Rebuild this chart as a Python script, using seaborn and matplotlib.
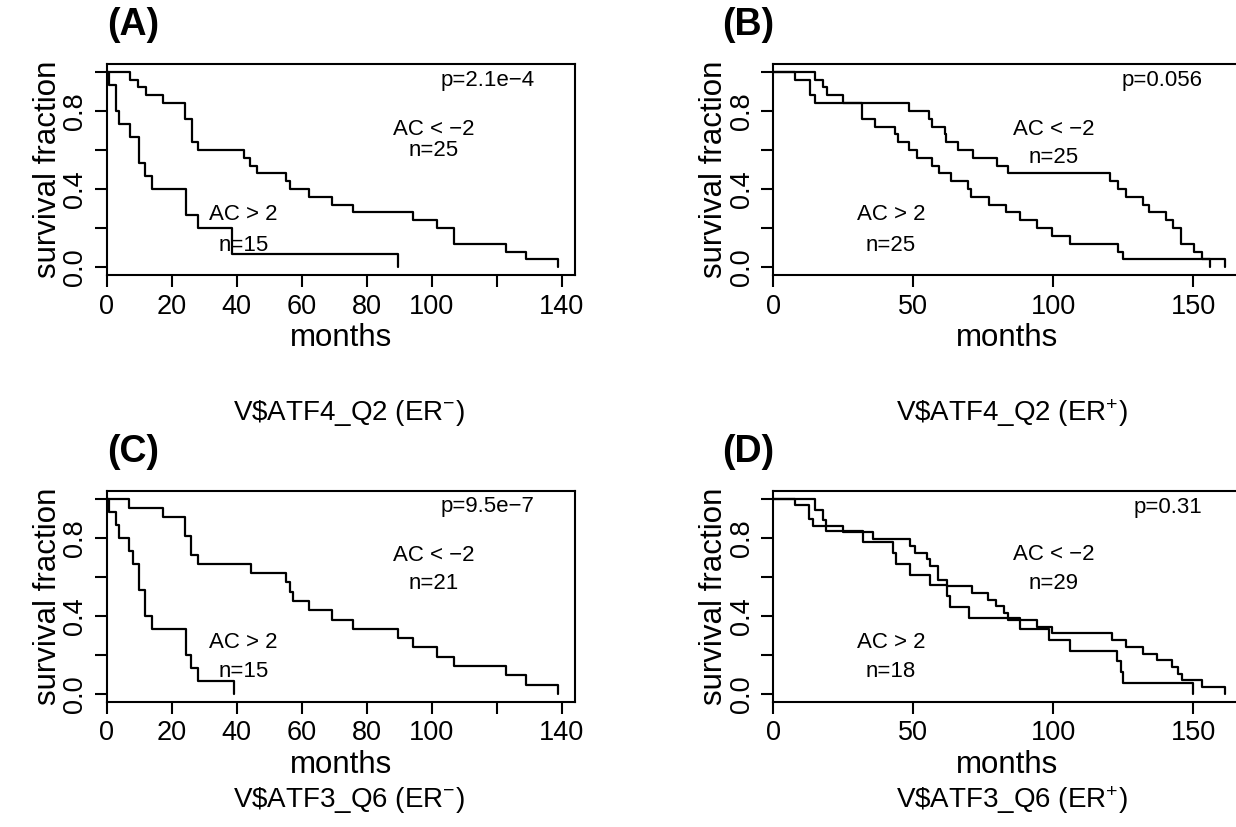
import matplotlib
matplotlib.use("Agg")
import matplotlib.pyplot as plt
import seaborn as sns

# ------------------------------------------------------------
# Kaplan-Meier steps: time (months), survival after step
# ------------------------------------------------------------
# (A) V$ATF4_Q2, ER-
a_hi_t = [0, 7.2, 9.7, 12.1, 17.2, 24.1, 26.1, 28.0, 42.2, 44.1, 46.2, 55.2, 56.4,
          62.3, 69.2, 75.7, 94.3, 101.7, 106.9, 122.8, 129.0, 139.0]
a_hi_s = [1, .96, .92, .88, .84, .76, .64, .60, .56, .52, .48, .44, .40,
          .36, .32, .28, .24, .20, .12, .08, .04, 0]
a_lo_t = [0, 0.8, 2.9, 3.8, 7.2, 10.0, 11.8, 13.8, 24.4, 28.2, 38.5, 89.7]
a_lo_s = [1, .933, .80, .733, .667, .533, .467, .40, .267, .20, .067, 0]

# (B) V$ATF4_Q2, ER+
b_hi_t = [0, 14.9, 17.9, 19.0, 24.8, 48.6, 55.7, 56.5, 61.3, 61.8, 66.1, 71.2, 79.8,
          83.9, 120.3, 123.2, 126.0, 132.1, 134.3, 140.2, 142.9, 145.5, 150.3, 153.0, 161.3]
b_hi_s = [1, .96, .92, .88, .84, .80, .76, .72, .68, .64, .60, .56, .52,
          .48, .44, .40, .36, .32, .28, .24, .20, .12, .08, .04, 0]
b_lo_t = [0, 7.75, 13.1, 14.9, 31.6, 36.3, 43.5, 44.5, 48.6, 51.2, 56.5, 59.3, 63.3,
          69.6, 70.5, 77.1, 83.0, 88.1, 94.1, 99.4, 106.0, 123.2, 125.0, 156.0]
b_lo_s = [1, .96, .88, .84, .76, .72, .68, .64, .60, .56, .52, .48, .44,
          .40, .36, .32, .28, .24, .20, .16, .12, .08, .04, 0]

# (C) V$ATF3_Q6, ER-
c_hi_t = [0, 7.0, 17.2, 24.1, 26.0, 28.0, 44.3, 55.1, 56.4, 57.3, 62.3, 69.2, 75.7,
          89.7, 94.3, 101.7, 106.9, 122.8, 129.0, 139.0]
c_hi_s = [1, .952, .905, .810, .714, .667, .619, .571, .524, .476, .429, .381, .333,
          .286, .238, .190, .143, .095, .048, 0]
c_lo_t = [0, 0.8, 2.9, 3.8, 7.0, 8.0, 10.0, 11.8, 14.0, 24.4, 26.0, 28.2, 39.3]
c_lo_s = [1, .933, .867, .80, .733, .667, .533, .40, .333, .20, .133, .067, 0]

# (D) V$ATF3_Q6, ER+
d_hi_t = [0, 7.75, 12.9, 14.3, 25.0, 35.7, 48.8, 50.6, 54.8, 56.0, 58.9, 61.9, 70.8,
          76.8, 79.5, 82.5, 83.9, 94.1, 99.6, 120.8, 126.0, 132.1, 136.9, 142.3, 144.6,
          145.8, 153.0, 161.3]
d_hi_s = [1, .966, .897, .862, .828, .793, .759, .724, .690, .655, .586, .552, .517,
          .483, .448, .414, .379, .345, .310, .276, .241, .207, .172, .138, .103,
          .069, .034, 0]
d_lo_t = [0, 14.9, 17.9, 18.8, 32.1, 42.9, 43.8, 48.8, 56.0, 61.9, 63.1, 70.0, 88.1,
          98.6, 106.0, 122.9, 124.0, 125.0, 150.0]
d_lo_s = [1, .944, .889, .833, .778, .722, .667, .611, .556, .5, .444, .389, .333,
          .278, .222, .167, .111, .056, 0]

panel_labels = ["(A)", "(B)", "(C)", "(D)"]
subtitles = [r"V\$ATF4_Q2 (ER$^{-}$)", r"V\$ATF4_Q2 (ER$^{+}$)",
             r"V\$ATF3_Q6 (ER$^{-}$)", r"V\$ATF3_Q6 (ER$^{+}$)"]
p_values = ["p=2.1e\u22124", "p=0.056", "p=9.5e\u22127", "p=0.31"]
n_hi = ["n=25", "n=25", "n=21", "n=29"]
n_lo = ["n=15", "n=25", "n=15", "n=18"]
ticks_140 = [0, 20, 40, 60, 80, 100, 120, 140]
ticklabels_140 = ["0", "20", "40", "60", "80", "100", "", "140"]
ticks_150 = [0, 50, 100, 150]
ticklabels_150 = ["0", "50", "100", "150"]

# ------------------------------------------------------------
sns.set_theme(style="ticks")
plt.rcParams.update({
    "axes.edgecolor": "black",
    "axes.linewidth": 1.5,
    "xtick.color": "black",
    "ytick.color": "black",
    "text.color": "black",
    "mathtext.fontset": "custom",
    "mathtext.rm": "Liberation Sans",
    "mathtext.it": "Liberation Sans",
})
plt.rcParams["font.family"] = ["Liberation Sans", "DejaVu Sans"]

W, H = 1236, 827
fig = plt.figure(figsize=(W / 100, H / 100), dpi=100)


def rect(left, top, right, bottom):
    return [left / W, 1 - bottom / H, (right - left) / W, (bottom - top) / H]


panels = [
    dict(r=rect(106.7, 64, 575, 275), curves=[(a_hi_t, a_hi_s), (a_lo_t, a_lo_s)],
         xmax=144.1, ticks=ticks_140, tl=ticklabels_140,
         pos_p=(117.3, .958), pos_hi=(100.5, .705, .595), pos_lo=(42, .272, .113),
         lab=(107, 25), sub=(349, 413)),
    dict(r=rect(773.3, 64, 1241.6, 275), curves=[(b_hi_t, b_hi_s), (b_lo_t, b_lo_s)],
         xmax=167.25, ticks=ticks_150, tl=ticklabels_150,
         pos_p=(139, .955), pos_hi=(100, .705, .562), pos_lo=(42, .272, .113),
         lab=(722, 25), sub=(1012, 413)),
    dict(r=rect(106.7, 491, 575, 701.7), curves=[(c_hi_t, c_hi_s), (c_lo_t, c_lo_s)],
         xmax=144.1, ticks=ticks_140, tl=ticklabels_140,
         pos_p=(117.3, .96), pos_hi=(100.5, .711, .565), pos_lo=(42, .266, .115),
         lab=(107, 452), sub=(349, 800)),
    dict(r=rect(773.3, 491, 1241.6, 701.7), curves=[(d_hi_t, d_hi_s), (d_lo_t, d_lo_s)],
         xmax=167.25, ticks=ticks_150, tl=ticklabels_150,
         pos_p=(141, .953), pos_hi=(100, .716, .565), pos_lo=(42, .266, .115),
         lab=(722, 452), sub=(1012, 800)),
]

for i, p in enumerate(panels):
    ax = fig.add_axes(p["r"])
    for t, s in p["curves"]:
        sns.lineplot(x=t, y=s, ax=ax, color="black", lw=1.6,
                     drawstyle="steps-post", estimator=None, sort=False)
    ax.set_xlim(0, p["xmax"])
    ax.set_ylim(-0.04, 1.04)
    ax.set_xticks(p["ticks"])
    ax.set_xticklabels(p["tl"])
    ax.set_yticks([0, 0.2, 0.4, 0.6, 0.8, 1.0])
    ax.set_yticklabels(["0.0", "", "0.4", "", "0.8", ""])
    ax.tick_params(direction="out", length=8.5, width=1.5, labelsize=19.5, pad=5)
    for lab in ax.get_yticklabels():
        lab.set_rotation(90)
        lab.set_va("center")
    for sp in ax.spines.values():
        sp.set_visible(True)
    ax.set_xlabel("")
    ax.set_ylabel("")

    ax.text(0.5, -0.30, "months", transform=ax.transAxes, ha="center",
            va="center", fontsize=22.5)
    ax.text(-0.126, 0.5, "survival fraction", transform=ax.transAxes,
            ha="center", va="center", rotation=90, fontsize=22.5)

    ax.text(*p["pos_p"], p_values[i], ha="center", va="center", fontsize=16)
    x, y1, y2 = p["pos_hi"]
    ax.text(x, y1, "AC < \u22122", ha="center", va="center", fontsize=16)
    ax.text(x, y2, n_hi[i], ha="center", va="center", fontsize=16)
    x, y1, y2 = p["pos_lo"]
    ax.text(x, y1, "AC > 2", ha="center", va="center", fontsize=16)
    ax.text(x, y2, n_lo[i], ha="center", va="center", fontsize=16)

    fig.text(p["lab"][0] / W, 1 - p["lab"][1] / H, panel_labels[i],
             fontsize=27, fontweight="bold", ha="left", va="center")
    fig.text(p["sub"][0] / W, 1 - p["sub"][1] / H, subtitles[i],
             fontsize=20, ha="center", va="center")

fig.savefig("out.png", dpi=100)
